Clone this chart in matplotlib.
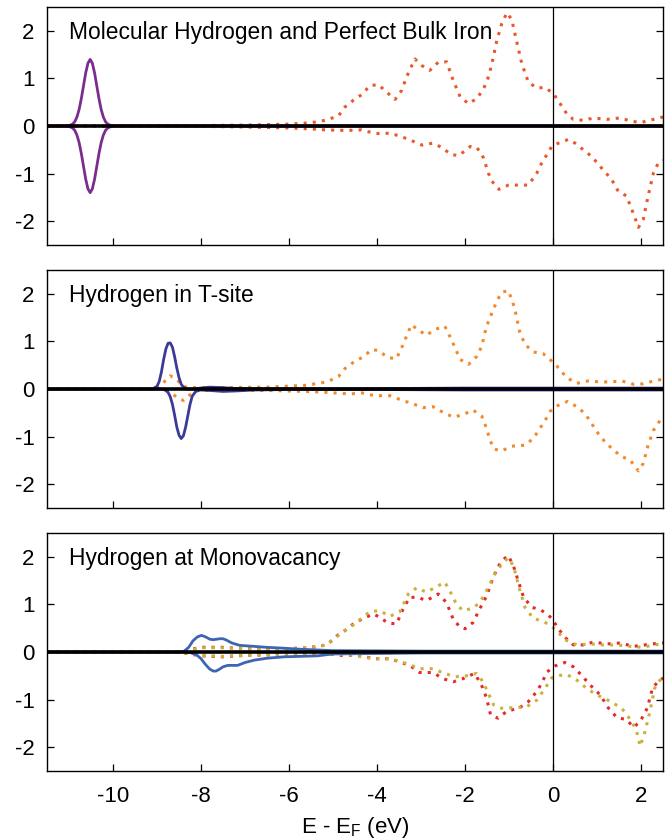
#!/usr/bin/env python3
"""Spin-resolved DOS for hydrogen in bcc iron, three configurations."""

import matplotlib
matplotlib.use("Agg")
import matplotlib.pyplot as plt  # noqa: E402

plt.rcParams["font.family"] = ["Liberation Sans", "DejaVu Sans"]

# ---- panel 1: molecular H2 + perfect bulk Fe ----
h2_x = [-11.5, -11.02, -10.92, -10.87, -10.82, -10.77, -10.72, -10.67,
        -10.62, -10.57, -10.52, -10.47, -10.42, -10.37, -10.32, -10.27,
        -10.22, -10.17, -10.12, -10.02, 2.5]
h2_up = [0.0, 0.0, 0.04, 0.09, 0.19, 0.35, 0.58, 0.85, 1.12, 1.32, 1.40,
         1.32, 1.12, 0.85, 0.58, 0.35, 0.19, 0.09, 0.04, 0.0, 0.0]
h2_dn = [0.0, 0.0, -0.04, -0.09, -0.19, -0.35, -0.58, -0.85, -1.12, -1.32,
         -1.40, -1.32, -1.12, -0.85, -0.58, -0.35, -0.19, -0.09, -0.04, 0.0,
         0.0]

fe1_up_x = [-11.5, -8.5, -8.0, -7.0, -6.5, -6.0, -5.5, -5.18, -4.88, -4.73,
            -4.54, -4.35, -4.16, -3.97, -3.78, -3.59, -3.44, -3.33, -3.14,
            -2.98, -2.80, -2.61, -2.42, -2.27, -2.11, -1.92, -1.73, -1.58,
            -1.47, -1.39, -1.28, -1.17, -1.05, -0.94, -0.83, -0.71, -0.56,
            -0.37, -0.18, 0.01, 0.16, 0.31, 0.46, 0.69, 0.92, 1.22, 1.52,
            1.75, 1.98, 2.28, 2.5]
fe1_up = [0.0, 0.0, 0.01, 0.02, 0.03, 0.04, 0.07, 0.12, 0.21, 0.40, 0.54,
          0.66, 0.85, 0.87, 0.71, 0.56, 0.75, 1.03, 1.41, 1.27, 1.17, 1.34,
          1.35, 0.96, 0.61, 0.47, 0.58, 0.78, 1.03, 1.31, 1.79, 2.14, 2.38,
          2.24, 1.79, 1.31, 0.92, 0.80, 0.81, 0.68, 0.47, 0.26, 0.14, 0.12,
          0.17, 0.14, 0.17, 0.11, 0.07, 0.14, 0.19]
fe1_dn_x = [-11.5, -8.5, -7.0, -6.0, -5.5, -5.18, -4.84, -4.54, -4.35, -4.08,
            -3.94, -3.72, -3.48, -3.26, -2.98, -2.73, -2.55, -2.31, -2.14,
            -1.88, -1.73, -1.58, -1.47, -1.39, -1.23, -1.01, -0.78, -0.56,
            -0.37, -0.26, -0.14, -0.03, 0.12, 0.35, 0.50, 0.69, 0.88, 1.10,
            1.33, 1.48, 1.67, 1.83, 1.94, 2.05, 2.16, 2.28, 2.39, 2.5]
fe1_dn = [0.0, 0.0, -0.02, -0.04, -0.06, -0.08, -0.09, -0.09, -0.08, -0.15,
          -0.16, -0.15, -0.21, -0.29, -0.40, -0.36, -0.44, -0.60, -0.62,
          -0.43, -0.45, -0.67, -0.99, -1.16, -1.33, -1.24, -1.24, -1.24,
          -0.99, -0.78, -0.60, -0.43, -0.36, -0.28, -0.36, -0.50, -0.64,
          -0.88, -1.12, -1.37, -1.47, -1.85, -2.13, -1.96, -1.47, -0.99,
          -0.78, -0.72]

# ---- panel 2: H in T-site ----
ht_x = [-11.5, -9.1, -9.0, -8.95, -8.9, -8.85, -8.8, -8.75, -8.7, -8.65,
        -8.6, -8.55, -8.5, -8.45, -8.4, -8.35, -8.3, -8.25, -8.2, -8.12,
        -8.02, -7.8, -7.5, -7.2, -6.8, -6.0, -4.0, -2.0, 0.0, 2.5]
ht_up = [0.0, 0.0, 0.06, 0.16, 0.36, 0.62, 0.84, 0.96, 0.97, 0.88, 0.68,
         0.44, 0.24, 0.10, 0.04, 0.01, 0.0, 0.0, 0.0, 0.0, 0.02, 0.04, 0.03,
         0.01, 0.01, 0.01, 0.01, 0.02, 0.02, 0.02]
ht_dn = [0.0, 0.0, 0.0, 0.0, 0.0, -0.01, -0.03, -0.07, -0.16, -0.32, -0.55,
         -0.80, -0.97, -1.04, -0.98, -0.80, -0.56, -0.32, -0.15, -0.05,
         -0.02, -0.03, -0.05, -0.04, -0.02, -0.01, -0.01, -0.02, -0.02, -0.02]

fe2_up_x = [-11.5, -9.0, -8.85, -8.7, -8.55, -8.4, -8.2, -7.5, -6.5, -5.6,
            -5.14, -4.88, -4.73, -4.54, -4.31, -4.12, -3.97, -3.75, -3.56,
            -3.44, -3.33, -3.22, -3.07, -2.88, -2.69, -2.46, -2.31, -2.23,
            -2.11, -1.92, -1.73, -1.62, -1.55, -1.47, -1.39, -1.28, -1.17,
            -1.02, -0.92, -0.85, -0.76, -0.64, -0.45, -0.22, -0.07, 0.08,
            0.31, 0.54, 0.80, 1.07, 1.29, 1.56, 1.83, 2.05, 2.36, 2.5]
fe2_up = [0.0, 0.0, 0.14, 0.28, 0.20, 0.05, 0.03, 0.03, 0.04, 0.08, 0.15,
          0.26, 0.43, 0.56, 0.68, 0.83, 0.81, 0.66, 0.64, 0.87, 1.11, 1.35,
          1.25, 1.13, 1.25, 1.32, 1.04, 0.87, 0.62, 0.52, 0.69, 0.90, 1.18,
          1.42, 1.60, 1.84, 2.03, 2.07, 1.84, 1.60, 1.21, 0.94, 0.78, 0.74,
          0.62, 0.49, 0.24, 0.12, 0.17, 0.15, 0.15, 0.17, 0.10, 0.11, 0.19,
          0.20]
fe2_dn_x = [-11.5, -8.9, -8.7, -8.55, -8.4, -8.25, -8.1, -7.5, -6.5, -5.6,
            -5.14, -4.84, -4.58, -4.35, -4.05, -3.71, -3.48, -3.22, -2.95,
            -2.73, -2.50, -2.27, -2.05, -1.82, -1.62, -1.51, -1.43, -1.34,
            -1.17, -0.94, -0.64, -0.45, -0.30, -0.18, -0.07, 0.10, 0.33,
            0.54, 0.73, 0.88, 1.03, 1.18, 1.37, 1.56, 1.75, 1.94, 2.05, 2.16,
            2.28, 2.43, 2.5]
fe2_dn = [0.0, 0.0, -0.05, -0.18, -0.24, -0.12, -0.03, -0.03, -0.03, -0.05,
          -0.07, -0.09, -0.10, -0.08, -0.14, -0.14, -0.22, -0.30, -0.39,
          -0.37, -0.49, -0.59, -0.54, -0.44, -0.57, -0.83, -1.08, -1.26,
          -1.30, -1.20, -1.18, -1.04, -0.83, -0.66, -0.47, -0.35, -0.26,
          -0.37, -0.52, -0.73, -0.94, -1.11, -1.28, -1.42, -1.49, -1.72,
          -1.56, -1.18, -0.87, -0.66, -0.60]

# ---- panel 3: H at monovacancy ----
hv_up_x = [-11.5, -8.48, -8.38, -8.28, -8.18, -8.08, -7.99, -7.9, -7.8,
           -7.73, -7.65, -7.57, -7.50, -7.42, -7.3, -7.12, -6.8, -6.52,
           -6.1, -5.77, -5.0, -3.0, 0.0, 2.5]
hv_up = [0.0, 0.0, 0.02, 0.10, 0.24, 0.32, 0.35, 0.32, 0.27, 0.26, 0.27,
         0.28, 0.28, 0.25, 0.19, 0.14, 0.12, 0.10, 0.08, 0.06, 0.03, 0.02,
         0.02, 0.02]
hv_dn_x = [-11.5, -8.4, -8.25, -8.1, -8.0, -7.9, -7.80, -7.72, -7.66, -7.58,
           -7.50, -7.39, -7.28, -7.17, -7.0, -6.79, -6.5, -6.11, -5.36, -5.0,
           -3.0, 0.0, 2.5]
hv_dn = [0.0, 0.0, -0.01, -0.06, -0.14, -0.26, -0.36, -0.40, -0.40, -0.36,
         -0.31, -0.28, -0.28, -0.28, -0.22, -0.17, -0.13, -0.10, -0.08,
         -0.04, -0.02, -0.02, -0.02]

fe3r_up_x = [-11.5, -8.5, -8.2, -8.0, -7.5, -7.0, -6.0, -5.5, -5.14, -4.90,
             -4.73, -4.54, -4.31, -4.08, -3.94, -3.75, -3.56, -3.41, -3.26,
             -3.07, -2.88, -2.61, -2.42, -2.27, -2.11, -2.00, -1.82, -1.67,
             -1.51, -1.39, -1.28, -1.17, -1.02, -0.90, -0.79, -0.67, -0.48,
             -0.29, -0.14, -0.03, 0.12, 0.27, 0.46, 0.69, 0.92, 1.22, 1.52,
             1.83, 2.09, 2.43, 2.5]
fe3r_up = [0.0, 0.0, 0.06, 0.10, 0.10, 0.07, 0.07, 0.10, 0.15, 0.35, 0.45,
           0.59, 0.71, 0.80, 0.73, 0.61, 0.59, 0.90, 1.15, 1.15, 1.08, 1.22,
           1.04, 0.69, 0.52, 0.49, 0.62, 0.90, 1.18, 1.49, 1.74, 1.91, 2.03,
           1.81, 1.49, 1.15, 0.94, 0.89, 0.80, 0.71, 0.49, 0.31, 0.15, 0.15,
           0.21, 0.17, 0.19, 0.12, 0.15, 0.19, 0.19]
fe3y_up_x = [-11.5, -8.5, -8.2, -8.0, -7.5, -7.0, -6.0, -5.5, -5.14, -4.84,
             -4.54, -4.16, -3.94, -3.71, -3.48, -3.29, -3.10, -2.88, -2.69,
             -2.46, -2.31, -2.20, -2.05, -1.82, -1.67, -1.55, -1.44, -1.33,
             -1.17, -1.02, -0.90, -0.77, -0.64, -0.45, -0.22, -0.07, 0.08,
             0.27, 0.54, 0.84, 1.14, 1.45, 1.75, 2.02, 2.43, 2.5]
fe3y_up = [0.0, 0.0, 0.05, 0.09, 0.09, 0.07, 0.07, 0.10, 0.15, 0.38, 0.57,
           0.85, 0.87, 0.75, 0.85, 1.22, 1.35, 1.26, 1.35, 1.47, 1.22, 1.01,
           0.87, 0.92, 1.04, 1.22, 1.42, 1.63, 1.84, 1.98, 1.81, 1.35, 0.94,
           0.71, 0.64, 0.57, 0.45, 0.26, 0.15, 0.17, 0.15, 0.15, 0.12, 0.10,
           0.17, 0.17]
fe3r_dn_x = [-11.5, -8.5, -8.2, -8.0, -7.5, -7.0, -6.0, -5.5, -5.14, -4.84,
             -4.39, -4.08, -3.71, -3.48, -3.26, -3.03, -2.73, -2.50, -2.27,
             -2.05, -1.79, -1.64, -1.51, -1.42, -1.25, -1.06, -0.76, -0.56,
             -0.37, -0.26, -0.14, 0.05, 0.27, 0.46, 0.65, 0.84, 1.07, 1.26,
             1.45, 1.67, 1.83, 1.98, 2.14, 2.26, 2.41, 2.5]
fe3r_dn = [0.0, 0.0, -0.05, -0.08, -0.10, -0.07, -0.05, -0.05, -0.035,
           -0.07, -0.07, -0.14, -0.14, -0.21, -0.28, -0.43, -0.43, -0.56,
           -0.625, -0.56, -0.45, -0.66, -0.97, -1.32, -1.39, -1.25, -1.17,
           -1.04, -0.83, -0.66, -0.42, -0.29, -0.22, -0.31, -0.49, -0.69,
           -0.90, -1.18, -1.375, -1.42, -1.58, -1.46, -1.18, -0.76, -0.59,
           -0.55]
fe3y_dn_x = [-11.5, -8.5, -8.2, -8.0, -7.5, -7.0, -6.0, -5.5, -5.14, -4.54,
             -4.08, -3.71, -3.33, -3.03, -2.73, -2.46, -2.23, -1.97, -1.74,
             -1.59, -1.47, -1.35, -1.17, -0.90, -0.60, -0.37, -0.18, -0.03,
             0.16, 0.31, 0.54, 0.76, 0.99, 1.29, 1.56, 1.79, 1.90, 1.98,
             2.09, 2.20, 2.31, 2.43, 2.5]
fe3y_dn = [0.0, 0.0, -0.04, -0.07, -0.09, -0.07, -0.05, -0.05, -0.035,
           -0.07, -0.14, -0.14, -0.24, -0.35, -0.35, -0.45, -0.52, -0.50,
           -0.45, -0.625, -0.87, -1.11, -1.18, -1.17, -1.15, -1.01, -0.76,
           -0.54, -0.49, -0.47, -0.59, -0.76, -0.90, -1.03, -1.18, -1.46,
           -1.67, -1.98, -1.67, -1.25, -0.76, -0.59, -0.55]

titles = ["Molecular Hydrogen and Perfect Bulk Iron",
          "Hydrogen in T-site",
          "Hydrogen at Monovacancy"]
xticks = [-10, -8, -6, -4, -2, 0, 2]
yticks = [-2, -1, 0, 1, 2]

DOT = (0, (1.0, 2.0))
FS = 16
TITLE_FS = 16.4


def style_axis(ax, title, show_xlabels):
    ax.set_xlim(-11.5, 2.5)
    ax.set_ylim(-2.5, 2.5)
    ax.set_xticks(xticks)
    ax.set_yticks(yticks)
    ax.set_yticklabels([str(t) for t in yticks])
    if show_xlabels:
        ax.set_xticklabels([str(t) for t in xticks])
    else:
        ax.set_xticklabels([])
    ax.tick_params(direction="in", length=5, width=0.9, labelsize=FS,
                   right=True, top=False, colors="black")
    ax.tick_params(axis="y", pad=9)
    ax.tick_params(axis="x", pad=11)
    for sp in ax.spines.values():
        sp.set_linewidth(1.0)
    ax.axvline(0, color="black", lw=0.9, zorder=5)
    ax.text(0.035, 0.895, title, transform=ax.transAxes, fontsize=TITLE_FS,
            ha="left", va="center")


fig = plt.figure(figsize=(6.66, 8.4), dpi=100)
axes = [fig.add_axes([0.0706, 0.7083, 0.925, 0.2833]),
        fig.add_axes([0.0706, 0.3952, 0.925, 0.2833]),
        fig.add_axes([0.0706, 0.0821, 0.925, 0.2833])]

ax = axes[0]
ax.plot(fe1_up_x, fe1_up, color="#e8582a", lw=2.2, ls=DOT)
ax.plot(fe1_dn_x, fe1_dn, color="#e8582a", lw=2.2, ls=DOT)
ax.plot(h2_x, h2_up, color="#7b2d8e", lw=2.0)
ax.plot(h2_x, h2_dn, color="#7b2d8e", lw=2.0)
ax.axhline(0, color="black", lw=2.6, zorder=4)

ax = axes[1]
ax.plot(fe2_up_x, fe2_up, color="#f08a2c", lw=2.2, ls=DOT)
ax.plot(fe2_dn_x, fe2_dn, color="#f08a2c", lw=2.2, ls=DOT)
ax.plot(ht_x, ht_up, color="#3b3a98", lw=2.0)
ax.plot(ht_x, ht_dn, color="#3b3a98", lw=2.0)
ax.axhline(0, color="black", lw=2.6, zorder=4)

ax = axes[2]
ax.plot(fe3r_up_x, fe3r_up, color="#e42a2a", lw=2.2, ls=DOT)
ax.plot(fe3r_dn_x, fe3r_dn, color="#e42a2a", lw=2.2, ls=DOT)
ax.plot(fe3y_up_x, fe3y_up, color="#c8b23a", lw=2.2, ls=DOT)
ax.plot(fe3y_dn_x, fe3y_dn, color="#c8b23a", lw=2.2, ls=DOT)
ax.plot(hv_up_x, hv_up, color="#3e64b4", lw=2.0)
ax.plot(hv_dn_x, hv_dn, color="#3e64b4", lw=2.0)
ax.axhline(0, color="black", lw=2.6, zorder=4)

for i, ax in enumerate(axes):
    style_axis(ax, titles[i], i == 2)

fig.text(355 / 666, 1 - 828 / 840, "E - E$_\\mathregular{F}$ (eV)",
         fontsize=FS, ha="center", va="center")

fig.savefig("out.png", dpi=100)
